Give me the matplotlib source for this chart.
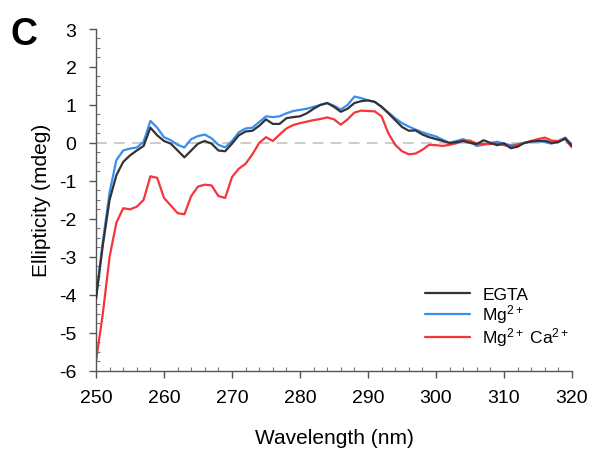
import matplotlib
matplotlib.use("Agg")
import matplotlib.pyplot as plt
from matplotlib.ticker import MultipleLocator

wavelength = list(range(250, 321))

egta = [-4.1, -2.7, -1.5, -0.85, -0.5, -0.33, -0.2, -0.08, 0.4, 0.2,
        0.05, -0.02, -0.2, -0.38, -0.2, -0.02, 0.05, -0.02, -0.2, -0.22,
        -0.02, 0.2, 0.3, 0.32, 0.45, 0.62, 0.5, 0.5, 0.65, 0.68,
        0.7, 0.78, 0.9, 1.0, 1.05, 0.95, 0.82, 0.9, 1.05, 1.1,
        1.12, 1.08, 0.95, 0.78, 0.6, 0.42, 0.32, 0.33, 0.22, 0.15,
        0.1, 0.05, 0.0, 0.02, 0.05, 0.0, -0.03, 0.07, 0.0, -0.06,
        -0.01, -0.14, -0.1, 0.0, 0.04, 0.05, 0.06, 0.0, 0.02, 0.12,
        -0.08]

mg = [-4.1, -2.6, -1.3, -0.45, -0.2, -0.15, -0.12, 0.03, 0.58, 0.4,
      0.15, 0.07, -0.05, -0.12, 0.1, 0.18, 0.22, 0.12, -0.05, -0.12,
      0.05, 0.28, 0.38, 0.4, 0.55, 0.7, 0.68, 0.7, 0.78, 0.84,
      0.87, 0.9, 0.95, 1.0, 1.05, 0.98, 0.88, 1.0, 1.22, 1.18,
      1.12, 1.08, 0.95, 0.8, 0.65, 0.52, 0.43, 0.35, 0.28, 0.22,
      0.17, 0.08, 0.0, 0.05, 0.1, 0.02, -0.08, -0.05, 0.0, 0.03,
      -0.02, -0.06, -0.04, 0.0, 0.03, 0.05, 0.02, -0.02, 0.05, 0.14,
      -0.05]

mgca = [-5.75, -4.5, -3.0, -2.1, -1.72, -1.75, -1.68, -1.5, -0.88, -0.92,
        -1.45, -1.65, -1.85, -1.88, -1.4, -1.15, -1.1, -1.12, -1.4, -1.45,
        -0.9, -0.68, -0.55, -0.3, 0.0, 0.15, 0.05, 0.22, 0.38, 0.47,
        0.52, 0.56, 0.6, 0.63, 0.67, 0.62, 0.48, 0.62, 0.8, 0.85,
        0.84, 0.83, 0.7, 0.25, -0.05, -0.22, -0.3, -0.28, -0.18, -0.05,
        -0.06, -0.08, -0.05, -0.01, 0.06, 0.06, -0.02, -0.03, -0.03, -0.02,
        -0.06, -0.1, -0.05, 0.0, 0.05, 0.1, 0.14, 0.06, 0.05, 0.1,
        -0.12]

series_labels = ["EGTA", r"Mg$^{2+}$", r"Mg$^{2+}$ Ca$^{2+}$"]
xticks = [250, 260, 270, 280, 290, 300, 310, 320]
yticks = [-6, -5, -4, -3, -2, -1, 0, 1, 2, 3]

plt.rcParams['font.family'] = ['Liberation Sans', 'DejaVu Sans']
plt.rcParams['mathtext.fontset'] = 'custom'
plt.rcParams['mathtext.rm'] = 'Liberation Sans'
plt.rcParams['mathtext.it'] = 'Liberation Sans'
plt.rcParams['axes.unicode_minus'] = False

fig = plt.figure(figsize=(5.93, 4.52), dpi=100)
ax = fig.add_axes([96/593, 1 - 371.7/452, (572 - 96)/593, (371.7 - 30)/452])

ax.axhline(0, color='#c8c8c8', lw=1.3, ls=(0, (6, 4)), zorder=1)
line_kw = dict(lw=1.6, solid_joinstyle='round', solid_capstyle='round')
ax.plot(wavelength, egta, color='#333333', label=series_labels[0], zorder=3, **line_kw)
ax.plot(wavelength, mg, color='#3a8ef0', label=series_labels[1], zorder=2, **line_kw)
ax.plot(wavelength, mgca, color='#f5353c', label=series_labels[2], zorder=2.5, **line_kw)

ax.set_xlim(250, 320)
ax.set_ylim(-6, 3)
ax.set_xticks(xticks)
ax.set_yticks(yticks)
ax.xaxis.set_minor_locator(MultipleLocator(2))
ax.yaxis.set_minor_locator(MultipleLocator(0.25))
for s in ['top', 'right']:
    ax.spines[s].set_visible(False)
for s in ['left', 'bottom']:
    ax.spines[s].set_color('#555555')
    ax.spines[s].set_linewidth(1.0)
ax.tick_params(which='major', direction='out', length=5, width=1.0, color='#555555',
               labelsize=14)
ax.tick_params(axis='x', which='major', pad=8)
ax.tick_params(axis='y', which='major', pad=9)
ax.tick_params(which='minor', direction='in', length=3, width=0.8, color='#777777')

ax.set_xlabel('Wavelength (nm)', fontsize=15, labelpad=16)
ax.set_ylabel('Ellipticity (mdeg)', fontsize=15, labelpad=6)

leg = ax.legend(loc='lower right', bbox_to_anchor=(1.02, 0.03), frameon=False,
                fontsize=12.5, handlelength=2.6, handletextpad=0.7,
                labelspacing=0.0, borderpad=0.2)

fig.text(10/593, 1 - 45/452, 'C', fontsize=27, fontweight='bold', va='baseline')

fig.savefig('out.png', dpi=100)
